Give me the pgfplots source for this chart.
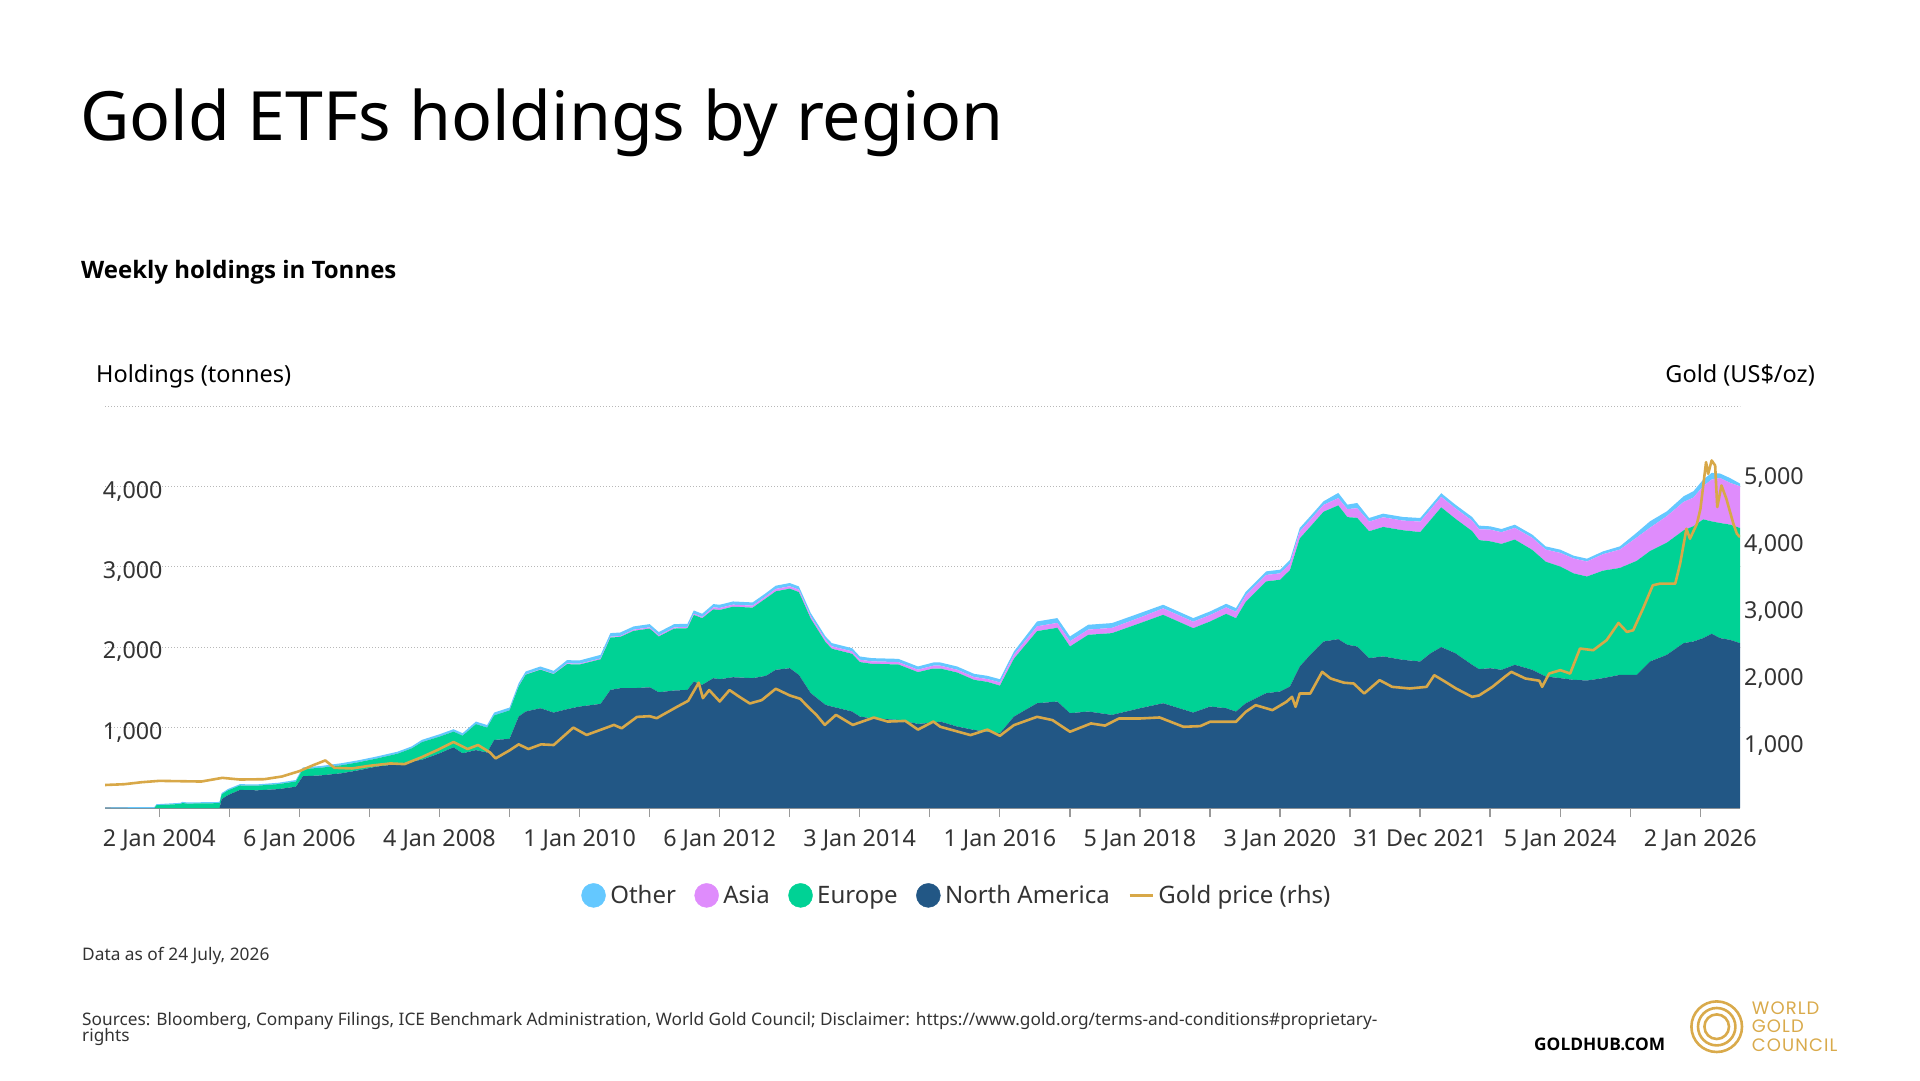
\documentclass[border=0pt]{standalone}
\usepackage{fontspec}
\setmainfont{Noto Sans}
\newfontfamily\boldsans{Open Sans}
\newfontfamily\wgcfont[LetterSpace=6]{Poppins}
\usepackage{pgfplots}
\usepackage{pgfplotstable}
\pgfplotsset{compat=1.18}
\definecolor{naC}{HTML}{225785}
\definecolor{euC}{HTML}{00D295}
\definecolor{asC}{HTML}{DF8CFC}
\definecolor{otC}{HTML}{64C8FF}
\definecolor{goldC}{HTML}{D8A848}
\definecolor{txtC}{HTML}{333333}
\definecolor{gridC}{HTML}{B8B8B8}
\definecolor{axC}{HTML}{999999}
\definecolor{wgcC}{HTML}{D9AA4B}
\newcommand\tickfont{\fontsize{23.3}{28}\selectfont}

\pgfplotstableread{
x NA EU AS OT
2003.22 0 0 0 5
2003.60 0 0 0 10
2003.93 0 0 0 12
2003.96 0 35 0 12
2004.30 0 50 0 14
2004.33 0 62 0 14
2004.40 0 55 0 14
2004.86 0 60 0 15
2004.89 110 60 0 15
2004.98 160 60 0 16
2005.15 225 55 0 16
2005.40 220 58 0 16
2005.70 235 62 0 17
2005.95 265 65 0 18
2006.05 395 90 0 20
2006.30 405 95 0 22
2006.60 432 100 0 25
2006.85 470 100 0 25
2007.10 515 100 0 25
2007.40 545 130 0 25
2007.60 580 160 0 25
2007.75 600 220 0 28
2008.00 680 207 0 30
2008.20 755 195 0 30
2008.33 680 220 0 30
2008.52 720 323 0 32
2008.68 690 310 0 32
2008.78 847 305 0 35
2009.00 860 354 0 35
2009.13 1137 375 5 35
2009.23 1200 458 5 35
2009.44 1241 479 5 35
2009.63 1187 479 5 35
2009.82 1229 560 10 40
2010.00 1262 523 10 40
2010.30 1295 555 10 45
2010.44 1469 651 10 45
2010.58 1490 638 10 45
2010.77 1490 713 15 40
2011.00 1502 730 15 40
2011.13 1440 693 15 40
2011.35 1461 771 15 40
2011.54 1469 767 15 40
2011.63 1573 829 15 40
2011.75 1532 829 15 40
2011.91 1615 856 25 40
2012.00 1602 861 25 40
2012.19 1627 877 25 40
2012.47 1615 877 25 40
2012.66 1644 964 25 40
2012.80 1719 976 30 40
2013.00 1739 989 30 40
2013.13 1656 1030 30 40
2013.30 1428 926 30 40
2013.51 1283 781 30 40
2013.60 1262 719 30 40
2013.89 1200 718 30 40
2014.00 1137 678 30 40
2014.17 1117 677 30 40
2014.55 1096 689 30 40
2014.83 1046 644 30 40
2015.05 1063 672 35 40
2015.15 1075 660 35 40
2015.39 1013 672 35 40
2015.63 971 623 35 40
2015.82 950 619 35 40
2016.00 930 592 40 40
2016.20 1137 720 50 40
2016.53 1303 897 60 60
2016.82 1324 918 60 60
2017.00 1179 830 65 60
2017.26 1200 954 65 60
2017.60 1158 1017 65 60
2018.00 1241 1058 70 55
2018.33 1303 1100 80 45
2018.76 1187 1050 80 45
2019.00 1262 1058 80 45
2019.23 1241 1174 80 45
2019.37 1200 1161 80 45
2019.51 1303 1262 80 45
2019.80 1428 1390 80 45
2020.00 1449 1390 80 45
2020.14 1511 1448 80 45
2020.28 1760 1593 85 45
2020.43 1905 1593 85 45
2020.62 2071 1614 85 45
2020.83 2100 1664 90 65
2020.96 2030 1588 100 55
2021.10 2009 1600 120 65
2021.27 1864 1578 120 45
2021.47 1885 1611 120 45
2021.75 1843 1612 120 45
2022.00 1822 1610 130 45
2022.15 1926 1660 130 45
2022.30 2001 1739 130 45
2022.50 1926 1673 130 45
2022.74 1781 1664 130 45
2022.84 1727 1605 135 45
2023.00 1739 1578 145 41
2023.16 1719 1566 145 40
2023.35 1781 1558 145 40
2023.60 1719 1491 150 40
2023.79 1636 1428 150 40
2024.00 1615 1388 170 40
2024.19 1594 1324 185 35
2024.38 1586 1293 187 35
2024.61 1615 1337 205 35
2024.85 1656 1330 228 40
2025.09 1656 1418 290 60
2025.28 1822 1374 290 80
2025.52 1905 1395 330 60
2025.76 2051 1403 353 70
2025.90 2071 1434 355 80
2026.04 2113 1477 415 80
2026.16 2167 1398 520 83
2026.28 2113 1432 560 55
2026.42 2092 1433 520 60
2026.565 2051 1432 518 34
}\holdings

\pgfplotstableread{
x price
2003.22 343
2003.50 355
2003.75 385
2004.00 405
2004.30 400
2004.60 395
2004.90 450
2005.15 425
2005.50 430
2005.75 470
2006.00 550
2006.20 640
2006.37 710
2006.50 600
2006.75 590
2007.00 630
2007.30 665
2007.50 655
2007.75 760
2008.00 880
2008.20 985
2008.40 880
2008.55 940
2008.72 830
2008.80 740
2009.00 860
2009.13 950
2009.27 880
2009.45 950
2009.63 940
2009.91 1200
2010.10 1090
2010.49 1240
2010.60 1190
2010.82 1360
2011.00 1370
2011.10 1340
2011.39 1510
2011.55 1600
2011.70 1870
2011.76 1640
2011.85 1760
2012.00 1590
2012.14 1760
2012.28 1660
2012.43 1560
2012.60 1610
2012.80 1780
2013.00 1680
2013.15 1630
2013.27 1500
2013.38 1390
2013.50 1240
2013.66 1390
2013.90 1240
2014.20 1350
2014.40 1290
2014.65 1300
2014.83 1170
2015.05 1290
2015.15 1212
2015.58 1088
2015.82 1170
2016.00 1078
2016.20 1237
2016.53 1361
2016.75 1312
2017.00 1138
2017.30 1262
2017.50 1230
2017.70 1336
2018.00 1336
2018.28 1351
2018.62 1212
2018.86 1222
2019.00 1287
2019.37 1287
2019.51 1436
2019.65 1535
2019.89 1461
2020.09 1585
2020.17 1659
2020.22 1510
2020.28 1709
2020.43 1709
2020.60 2032
2020.72 1933
2020.91 1870
2021.05 1858
2021.20 1709
2021.42 1908
2021.60 1808
2021.85 1784
2022.09 1808
2022.20 1982
2022.32 1908
2022.51 1784
2022.74 1659
2022.84 1680
2023.03 1808
2023.21 1960
2023.30 2032
2023.50 1933
2023.70 1900
2023.74 1808
2023.84 2007
2024.00 2057
2024.14 2007
2024.28 2380
2024.47 2355
2024.66 2504
2024.83 2762
2024.95 2628
2025.04 2653
2025.18 2976
2025.32 3324
2025.42 3348
2025.64 3348
2025.71 3646
2025.80 4168
2025.85 4019
2025.95 4243
2026.00 4466
2026.08 5162
2026.11 4988
2026.16 5187
2026.21 5112
2026.24 4491
2026.30 4814
2026.37 4615
2026.47 4243
2026.52 4094
2026.565 4044
}\gold

\begin{document}
\begin{tikzpicture}[x=1pt,y=1pt]
\path[use as bounding box] (0,0) rectangle (1920,1080);

\begin{axis}[
  at={(105pt,272pt)}, anchor=south west, scale only axis,
  width=1635pt, height=402pt,
  xmin=2003.225, xmax=2026.565, ymin=0, ymax=5000,
  axis x line*=bottom, axis y line*=left,
  x axis line style={draw=axC, line width=1.3pt, -},
  y axis line style={draw=none},
  xtick={2004,...,2026},
  xticklabels={2 Jan 2004,,6 Jan 2006,,4 Jan 2008,,1 Jan 2010,,6 Jan 2012,,3 Jan 2014,,1 Jan 2016,,5 Jan 2018,,3 Jan 2020,,31 Dec 2021,,5 Jan 2024,,2 Jan 2026},
  tick align=outside, major tick length=9pt,
  xtick style={draw=axC, line width=1.3pt},
  ytick={1000,2000,3000,4000,5000},
  yticklabels={{1,000},{2,000},{3,000},{4,000},{}},
  ytick style={draw=none},
  ymajorgrids, grid style={draw=gridC, line width=1pt, dash pattern=on 1pt off 2pt},
  yticklabel style={anchor=base west, inner sep=0pt, xshift=6.7pt, yshift=-11.6pt, text=txtC, font=\tickfont},
  xticklabel style={anchor=base, inner sep=0pt, yshift=-29.3pt, text=txtC, font=\tickfont},
  stack plots=y,
  legend columns=5,
  legend style={draw=none, fill=none, inner sep=0pt, at={(0.5204,-0.2174)}, anchor=center,
    font=\fontsize{24}{28}\selectfont, text=txtC,
    nodes={inner sep=0pt},
    /tikz/every odd column/.append style={column sep=4.5pt},
    /tikz/every even column/.append style={column sep=18.5pt}},
]
\addplot[fill=naC, draw=none, forget plot] table[x=x, y=NA] {\holdings} \closedcycle;
\addplot[fill=euC, draw=none, forget plot] table[x=x, y=EU] {\holdings} \closedcycle;
\addplot[fill=asC, draw=none, forget plot] table[x=x, y=AS] {\holdings} \closedcycle;
\addplot[fill=otC, draw=none, forget plot] table[x=x, y=OT] {\holdings} \closedcycle;
\addlegendimage{legend image code/.code={\fill[otC] (12pt,0pt) circle (12pt);}}
\addlegendentry{Other}
\addlegendimage{legend image code/.code={\fill[asC] (12pt,0pt) circle (12pt);}}
\addlegendentry{Asia}
\addlegendimage{legend image code/.code={\fill[euC] (12pt,0pt) circle (12pt);}}
\addlegendentry{Europe}
\addlegendimage{legend image code/.code={\fill[naC] (12pt,0pt) circle (12pt);}}
\addlegendentry{North America}
\addlegendimage{legend image code/.code={\draw[goldC, line width=2.5pt] (0pt,0pt) -- (23pt,0pt);}}
\addlegendentry{Gold price (rhs)}
\end{axis}

\begin{axis}[
  at={(105pt,272pt)}, anchor=south west, scale only axis,
  width=1635pt, height=402pt,
  xmin=2003.225, xmax=2026.565, ymin=0, ymax=6000,
  axis x line=none, axis y line*=right,
  y axis line style={draw=none},
  ytick={1000,2000,3000,4000,5000},
  yticklabels={{1,000},{2,000},{3,000},{4,000},{5,000}},
  ytick style={draw=none},
  yticklabel style={anchor=base west, inner sep=0pt, xshift=4pt, yshift=-11.9pt, text=txtC, font=\tickfont},
]
\addplot[goldC, line width=2.6pt, line join=round] table[x=x, y=price] {\gold};
\end{axis}

\node[anchor=base west, inner sep=0pt, font=\fontsize{68}{76}\selectfont] at (80,939) {Gold ETFs holdings by region};
\node[anchor=base west, inner sep=0pt, font=\boldsans\bfseries\fontsize{24}{28}\selectfont] at (81,801.7) {Weekly holdings in Tonnes};
\node[anchor=base west, inner sep=0pt, font=\fontsize{23.5}{27}\selectfont] at (96,697.7) {Holdings (tonnes)};
\node[anchor=base east, inner sep=0pt, font=\fontsize{23.5}{27}\selectfont] at (1815,697.7) {Gold (US\$/oz)};
\node[anchor=base west, inner sep=0pt, text=txtC, font=\fontsize{17.3}{20}\selectfont] at (82,119.3) {Data as of 24 July, 2026};
\node[anchor=base west, inner sep=0pt, text=txtC, font=\fontsize{17.25}{20}\selectfont] at (82,55) {Sources: Bloomberg, Company Filings, ICE Benchmark Administration, World Gold Council; Disclaimer: https://www.gold.org/terms-and-conditions\#proprietary-};
\node[anchor=base west, inner sep=0pt, text=txtC, font=\fontsize{17.25}{20}\selectfont] at (82,39) {rights};
\node[anchor=base west, inner sep=0pt, font=\boldsans\bfseries\fontsize{17.3}{20}\selectfont] at (1534,29.3) {GOLDHUB.COM};
\draw[wgcC, line width=2.6pt] (1716.7,53.3) circle (25.3) (1716.7,53.3) circle (18.7) (1716.7,53.3) circle (12.3);
\node[anchor=base west, inner sep=0pt, text=wgcC, font=\wgcfont\fontsize{18}{20}\selectfont] at (1751.7,66) {WORLD};
\node[anchor=base west, inner sep=0pt, text=wgcC, font=\wgcfont\fontsize{18}{20}\selectfont] at (1751.7,47.3) {GOLD};
\node[anchor=base west, inner sep=0pt, text=wgcC, font=\wgcfont\fontsize{18}{20}\selectfont] at (1751.7,29) {COUNCIL};
\end{tikzpicture}
\end{document}
